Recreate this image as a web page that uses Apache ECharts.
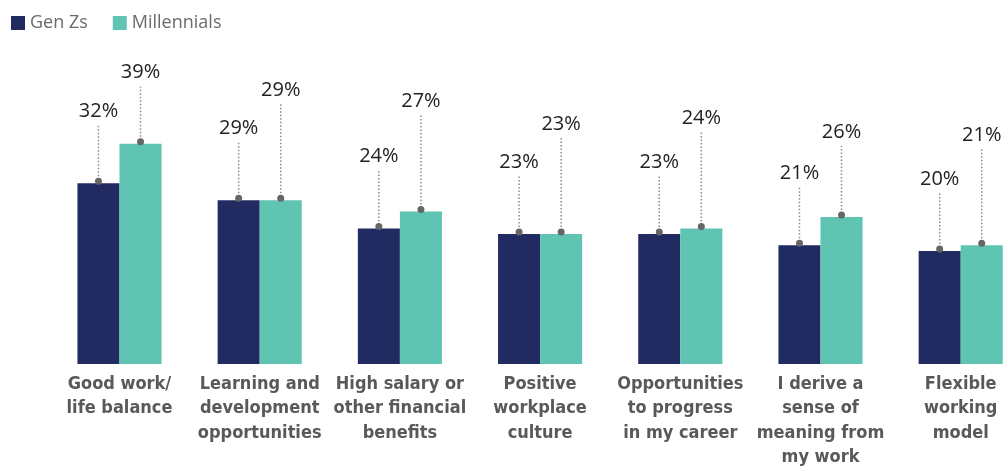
<!DOCTYPE html>
<html lang="en">
<head>
  <meta charset="UTF-8">
  <title>Gen Zs vs Millennials</title>
  <style type="text/css">
    html, body { margin: 0; padding: 0; background: #fff; }
    #main { width: 1003px; height: 472px; }
  </style>
</head>
<body>
  <div id="main"></div>
  <script src="https://cdn.jsdelivr.net/npm/echarts@6/dist/echarts.min.js"></script>
  <script type="text/javascript">
    var categories = [
      'Good work/\nlife balance',
      'Learning and\ndevelopment\nopportunities',
      'High salary or\nother financial\nbenefits',
      'Positive\nworkplace\nculture',
      'Opportunities\nto progress\nin my career',
      'I derive a\nsense of\nmeaning from\nmy work',
      'Flexible\nworking\nmodel'
    ];
    var genZ = [32, 29, 24, 23, 23, 21, 20];
    var millennials = [39, 29, 27, 23, 24, 26, 21];

    var navy = '#212a61';
    var teal = '#5fc5b2';
    // how far each label sits above its bar (px)
    var genZLift = [72, 72, 72, 72, 72, 72, 72];
    var millLift = [71, 110, 110, 110, 110, 85, 110];

    function callout(side, lifts) {
      return function (params, api) {
        var i = api.value(0);
        var top = api.coord([i, api.value(1)]);
        var band = api.size([1, 0])[0];
        var x = top[0] + side * band * 0.15;
        var y = top[1];
        var lift = lifts[params.dataIndex];
        return {
          type: 'group',
          children: [{
            type: 'line',
            shape: { x1: x, y1: y, x2: x, y2: y - lift + 14 },
            style: { stroke: '#8a8a8a', lineWidth: 1.5, lineDash: [1.5, 2] }
          }, {
            type: 'circle',
            shape: { cx: x, cy: y - 2, r: 3.5 },
            style: { fill: '#666' }
          }, {
            type: 'text',
            x: x,
            y: y - lift,
            style: {
              text: api.value(1) + '%',
              fill: '#222',
              font: '20px "Open Sans", sans-serif',
              align: 'center',
              verticalAlign: 'middle'
            }
          }]
        };
      };
    }

    var chart = echarts.init(document.getElementById('main'));
    var option = {
      animation: false,
      legend: {
        left: 11,
        top: 14,
        padding: 0,
        itemWidth: 14,
        itemHeight: 14,
        itemGap: 25,
        icon: 'rect',
        data: ['Gen Zs', 'Millennials'],
        textStyle: { color: '#6a6a6a', fontSize: 18, fontFamily: 'Open Sans' }
      },
      grid: {
        left: 49.4, width: 981.4, top: 81.5, height: 282.5,
        containLabel: false,
        outerBoundsMode: 'none'
      },
      xAxis: {
        type: 'category',
        data: categories,
        axisLine: { show: false },
        axisTick: { show: false },
        axisLabel: {
          interval: 0,
          margin: 8,
          color: '#595959',
          fontSize: 18,
          lineHeight: 24.5,
          fontWeight: 'bold',
          fontFamily: '"Liberation Sans Narrow", "DejaVu Sans Condensed", sans-serif'
        }
      },
      yAxis: {
        type: 'value',
        min: 0,
        max: 50,
        show: false,
        splitLine: { show: false }
      },
      series: [{
        name: 'Gen Zs',
        type: 'bar',
        data: genZ,
        barGap: '0%',
        barCategoryGap: '40%',
        itemStyle: { color: navy }
      }, {
        name: 'Millennials',
        type: 'bar',
        data: millennials,
        itemStyle: { color: teal }
      }, {
        type: 'custom',
        z: 5,
        renderItem: callout(-1, genZLift),
        data: genZ.map(function (v, i) { return [i, v]; }),
        encode: { x: 0, y: 1 }
      }, {
        type: 'custom',
        z: 5,
        renderItem: callout(1, millLift),
        data: millennials.map(function (v, i) { return [i, v]; }),
        encode: { x: 0, y: 1 }
      }]
    };
    chart.setOption(option);
  </script>
</body>
</html>
